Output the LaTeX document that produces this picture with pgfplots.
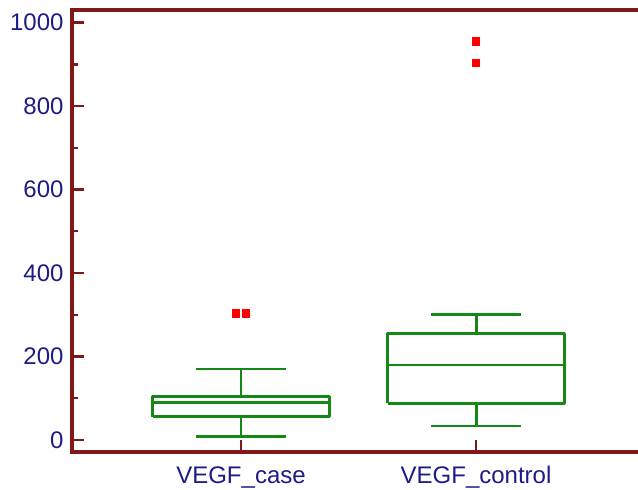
\documentclass[border=0pt]{standalone}
\usepackage{pgfplots}
\pgfplotsset{compat=1.18}
\usepackage{fontspec}
\setmainfont{Liberation Sans}
\definecolor{axred}{RGB}{128,24,24}
\definecolor{lblue}{RGB}{28,28,135}
\definecolor{bgreen}{RGB}{20,135,20}
\begin{document}
\begin{tikzpicture}
\useasboundingbox (-72pt,-38pt) rectangle (566pt,452pt);
\begin{axis}[
  at={(0pt,0pt)}, anchor=south west,
  scale only axis, width=566pt, height=442pt,
  xmin=-0.719, xmax=1.689, ymin=-28.8, ymax=1030.4,
  clip=false,
  axis line style={draw=none},
  xtick pos=left, ytick pos=left,
  tick align=inside,
  major tick length=12pt, minor tick length=6pt,
  every tick/.style={draw=axred, line width=2.4pt},
  every major tick/.style={draw=axred, line width=2.4pt},
  every minor tick/.style={draw=axred, line width=2.2pt},
  xtick={0,1}, xticklabels={VEGF\_case, VEGF\_control},
  ytick={0,200,400,600,800,1000}, minor y tick num=1,
  /pgf/number format/assume math mode=true,
  /pgf/number format/1000 sep={},
  tick label style={font=\fontsize{24}{28}\selectfont, text=lblue},
  xticklabel style={yshift=-11pt},
  yticklabel style={xshift=-5pt},
  bx/.style={draw=bgreen, line width=2.9pt, mark=none, solid, line join=round},
]
\draw[axred, line width=3.2pt, line cap=rect] (rel axis cs:1,1) -- (rel axis cs:0,1) -- (rel axis cs:0,0) -- (rel axis cs:1,0);
% VEGF_case: box Q1=55.8, median=89.4, Q3=103.8, whiskers 8 .. 170
\addplot[bx] coordinates {(-0.375,55.8) (0.375,55.8) (0.375,103.8) (-0.375,103.8) (-0.375,55.8)};
\addplot[bx] coordinates {(-0.375,89.4) (0.375,89.4)};
\addplot[bx] coordinates {(0,103.8) (0,170)};
\addplot[bx] coordinates {(-0.19,170) (0.19,170)};
\addplot[bx] coordinates {(0,55.8) (0,8)};
\addplot[bx] coordinates {(-0.19,8) (0.19,8)};
% VEGF_control: box Q1=87.9, median=179.7, Q3=255.6, whiskers 33.5 .. 301
\addplot[bx] coordinates {(0.625,87.9) (1.375,87.9) (1.375,255.6) (0.625,255.6) (0.625,87.9)};
\addplot[bx] coordinates {(0.625,179.7) (1.375,179.7)};
\addplot[bx] coordinates {(1,255.6) (1,301)};
\addplot[bx] coordinates {(0.81,301) (1.19,301)};
\addplot[bx] coordinates {(1,87.9) (1,33.5)};
\addplot[bx] coordinates {(0.81,33.5) (1.19,33.5)};
% outliers
\addplot[only marks, color=red, mark=square*, mark size=3.7pt, mark options={solid, draw=red, fill=red, line width=0pt}]
  coordinates {(-0.02,303) (0.02,303) (1,955) (1,903)};
\end{axis}
\end{tikzpicture}
\end{document}
